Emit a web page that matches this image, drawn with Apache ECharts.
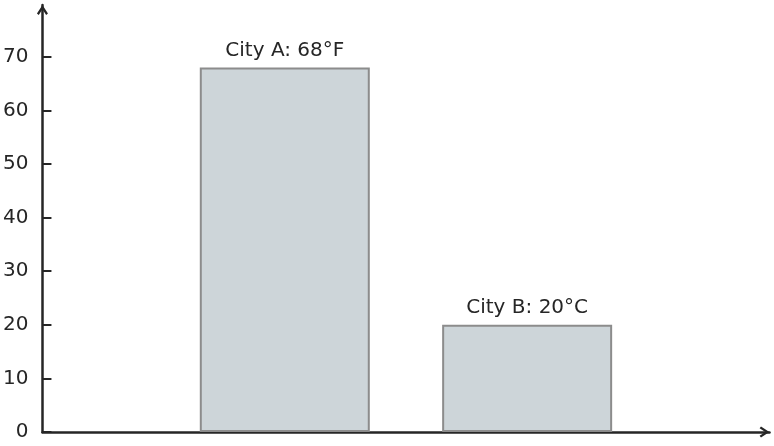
<!DOCTYPE html>
<html>
<head>
<meta charset="utf-8">
<script src="https://cdn.jsdelivr.net/npm/echarts@6/dist/echarts.min.js"></script>
<style>
html,body{margin:0;padding:0;background:#fff;}
#chart{width:774px;height:446px;}
</style>
</head>
<body>
<div id="chart"></div>
<script>
const cities = ['City A', 'City B'];
const temps = [68, 20];
const units = ['°F', '°C'];
const yTicks = [0, 10, 20, 30, 40, 50, 60, 70];

// padded category slots (empty slot at each end of the axis)
const categories = [''].concat(cities, ['']);
const values = [null].concat(temps, [null]);
const labels = [''].concat(cities.map((c, i) => c + ': ' + temps[i] + units[i]), ['']);

const arrow = 'path://M0,8.4 L5.5,0 L11,8.4 L9.2,9.8 L5.5,4.1 L1.8,9.8 Z';
const axisColor = '#262626';
const font = 'DejaVu Sans';

const chart = echarts.init(document.getElementById('chart'), null, {renderer: 'canvas'});
chart.setOption({
  animation: false,
  backgroundColor: '#ffffff',
  grid: {left: 41.7, right: 4.5, top: 5, bottom: 14},
  xAxis: {
    type: 'category',
    data: categories,
    boundaryGap: false,
    axisLine: {
      show: true,
      symbol: ['none', arrow],
      symbolSize: [11, 10],
      symbolOffset: [0, -5],
      lineStyle: {color: axisColor, width: 2.5}
    },
    axisTick: {
      show: true, inside: true, length: 3,
      interval: (i) => values[i] != null,
      lineStyle: {color: '#999999', width: 1.5}
    },
    axisLabel: {show: false},
    splitLine: {show: false}
  },
  yAxis: {
    type: 'value',
    min: 0,
    max: 79.65,
    interval: 10,
    axisLine: {
      show: true,
      symbol: ['none', arrow],
      symbolSize: [11, 10],
      symbolOffset: [0, -5],
      lineStyle: {color: axisColor, width: 2.5}
    },
    axisTick: {
      show: true, inside: true, length: 9,
      customValues: yTicks,
      lineStyle: {color: axisColor, width: 2}
    },
    axisLabel: {
      customValues: yTicks,
      color: axisColor,
      fontFamily: font,
      fontSize: 20,
      margin: 14
    },
    splitLine: {show: false}
  },
  series: [{
    type: 'bar',
    data: values,
    barWidth: 170,
    itemStyle: {color: '#cdd5d9', borderColor: '#8c8c8c', borderWidth: 2},
    label: {
      show: true,
      position: 'top',
      distance: 7,
      color: axisColor,
      fontFamily: font,
      fontSize: 20,
      formatter: (p) => labels[p.dataIndex]
    }
  }]
});
</script>
</body>
</html>
